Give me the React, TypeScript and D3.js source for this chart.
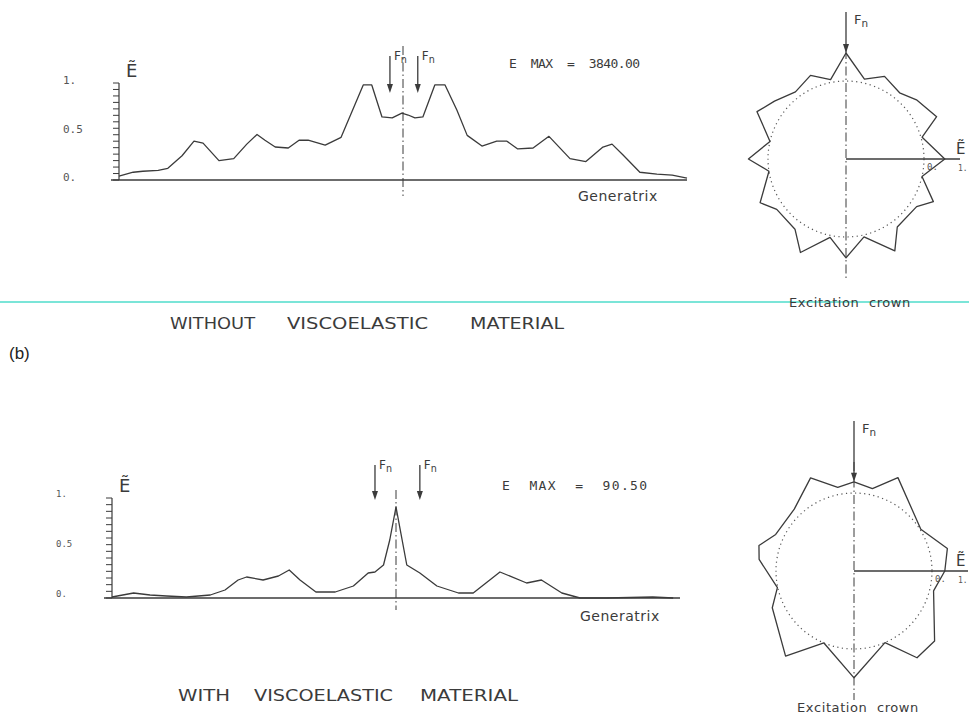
import { useEffect, useRef } from 'react'
import * as d3 from 'd3'

const W = 969
const H = 715
const INK = '#3b3b3b'
const SANS = '"DejaVu Sans", sans-serif'
const MONO = '"DejaVu Sans Mono", monospace'

// ── Generatrix distributions (position 0-100 along generatrix, centre = 50) ──
const topGenPos = [0, 2.5, 4.2, 6.9, 8.6, 11.1, 13.2, 14.8, 17.6, 20.2, 22.5, 24.3, 25.7, 27.5, 29.8, 31.7, 33.3, 36.3, 39.1, 43.0, 44.5, 46.3, 48.1, 49.8, 50.9, 52.1, 53.5, 55.6, 57.4, 59.5, 61.3, 63.9, 66.5, 68.3, 70.2, 72.9, 75.7, 79.4, 82.2, 85.2, 86.8, 88.7, 91.7, 94.7, 97.4, 100]
const topGenE = [0.04, 0.08, 0.09, 0.10, 0.12, 0.25, 0.40, 0.38, 0.20, 0.22, 0.37, 0.47, 0.41, 0.34, 0.33, 0.41, 0.41, 0.36, 0.44, 0.98, 0.98, 0.65, 0.64, 0.69, 0.67, 0.64, 0.65, 0.98, 0.98, 0.72, 0.46, 0.35, 0.40, 0.40, 0.32, 0.33, 0.45, 0.22, 0.19, 0.34, 0.37, 0.26, 0.08, 0.06, 0.05, 0.02]

const botGenPos = [0, 3.8, 6.7, 9.6, 13.1, 17.3, 19.9, 22.2, 23.7, 26.6, 29.3, 31.2, 33.1, 35.9, 39.3, 42.5, 45.1, 46.3, 47.8, 48.9, 50, 51.9, 54.2, 57.2, 61.0, 63.6, 68.3, 73.0, 75.6, 79.2, 82.4, 87.1, 95.2, 98.8]
const botGenE = [0.01, 0.05, 0.03, 0.02, 0.01, 0.03, 0.08, 0.18, 0.21, 0.18, 0.22, 0.28, 0.18, 0.06, 0.06, 0.12, 0.25, 0.26, 0.33, 0.58, 0.91, 0.33, 0.25, 0.12, 0.05, 0.05, 0.26, 0.15, 0.18, 0.05, 0.0, 0.0, 0.01, 0.0]

// force application points along the generatrix
const topFnPos = [47.7, 52.6]
const botFnPos = [46.3, 54.2]

// ── Excitation crown (angle clockwise from top, degrees) ──
const topCrownAngle = [0, 13, 25, 39, 50, 65, 74, 90, 103, 116, 124, 143, 152, 167, 180, 191.5, 206, 216, 234, 243, 261, 270, 283, 298, 309, 323, 337, 349]
const topCrownE = [0.70, 0.10, 0.33, 0.18, 0.35, 0.55, 0.03, 0.52, 0.0, 0.48, 0.18, 0.18, 0.65, 0.05, 0.52, 0.05, 0.65, 0.22, 0.19, 0.46, 0.0, 0.49, 0.0, 0.57, 0.35, 0.15, 0.32, 0.07]

const botCrownAngle = [0, 12.6, 25.2, 58, 76.5, 90, 104, 131, 144, 156.6, 180, 202.7, 218.8, 245.8, 257.7, 277, 285, 295, 316, 335, 349]
const botCrownE = [0.28, 0.16, 0.63, 0.02, 0.45, 0.32, 0.10, 0.72, 0.73, 0.0, 0.72, 0.0, 0.78, 0.29, 0.01, 0.44, 0.51, 0.21, 0.20, 0.62, 0.18]

const eTickValues = [0, 0.5, 1]
const eTickLabels = ['0.', '0.5', '1.']

const topCaption = ['WITHOUT', 'VISCOELASTIC', 'MATERIAL']
const botCaption = ['WITH', 'VISCOELASTIC', 'MATERIAL']

type Sel = d3.Selection<SVGSVGElement, unknown, null, undefined>

interface GenPanel {
  pos: number[]
  e: number[]
  fn: number[]
  x0: number
  x1: number
  base: number
  top: number
  emax: string
  emaxX: number
  emaxY: number
  emaxW: number
  genX: number
  genY: number
  tickFont: number
  tickDy: number
  arrowTop: number
  arrowTip: number
  dashTop: number
  dashBottom: number
}

function fnLabel(root: Sel, x: number, y: number, size: number) {
  const t = root
    .append('text')
    .attr('x', x)
    .attr('y', y)
    .attr('fill', INK)
    .attr('font-family', SANS)
    .attr('font-size', size)
  t.append('tspan').text('F')
  t.append('tspan').attr('font-size', size * 0.8).attr('dy', 3).text('n')
}

function arrow(root: Sel, x: number, yTop: number, yTip: number) {
  root
    .append('line')
    .attr('x1', x).attr('x2', x)
    .attr('y1', yTop).attr('y2', yTip - 6)
    .attr('stroke', INK)
    .attr('stroke-width', 1.3)
  root
    .append('path')
    .attr('d', `M${x - 3},${yTip - 9}L${x + 3},${yTip - 9}L${x},${yTip}Z`)
    .attr('fill', INK)
}

function drawGeneratrix(root: Sel, p: GenPanel) {
  const x = d3.scaleLinear().domain([0, 100]).range([p.x0, p.x1])
  const y = d3.scaleLinear().domain([0, 1]).range([p.base, p.top])

  // ── Axes ────────────────────────────────────────────────
  root
    .append('line')
    .attr('x1', x(0) - 8).attr('x2', x(100))
    .attr('y1', y(0)).attr('y2', y(0))
    .attr('stroke', INK)
    .attr('stroke-width', 1.5)

  root
    .append('line')
    .attr('x1', x(0)).attr('x2', x(0))
    .attr('y1', y(0)).attr('y2', y(1))
    .attr('stroke', INK)
    .attr('stroke-width', 1.2)

  root
    .append('g')
    .selectAll('line')
    .data(d3.range(0, 1.0001, 1 / 15))
    .join('line')
    .attr('x1', x(0) - 6)
    .attr('x2', x(0))
    .attr('y1', (d) => y(d))
    .attr('y2', (d) => y(d))
    .attr('stroke', INK)
    .attr('stroke-width', 1)

  root
    .append('g')
    .selectAll('text')
    .data(eTickValues)
    .join('text')
    .attr('x', x(0) - 56)
    .attr('y', (d) => y(d) + p.tickDy)
    .attr('fill', '#555')
    .attr('font-family', MONO)
    .attr('font-size', p.tickFont)
    .text((_, i) => eTickLabels[i])

  root
    .append('text')
    .attr('x', x(0) + 7)
    .attr('y', y(1) - 6)
    .attr('fill', INK)
    .attr('font-family', SANS)
    .attr('font-size', 18)
    .text('Ẽ')

  // ── Centre line and loads ───────────────────────────────
  root
    .append('line')
    .attr('x1', x(50)).attr('x2', x(50))
    .attr('y1', p.dashTop).attr('y2', p.dashBottom)
    .attr('stroke', INK)
    .attr('stroke-width', 1)
    .attr('stroke-dasharray', '9 3 1.5 3')

  p.fn.forEach((f) => {
    arrow(root, x(f), p.arrowTop, p.arrowTip)
    fnLabel(root, x(f) + 4, p.arrowTop + 4, 12)
  })

  // ── Curve ───────────────────────────────────────────────
  const line = d3
    .line<number>()
    .x((_, i) => x(p.pos[i]!))
    .y((d) => y(d))

  root
    .append('path')
    .attr('d', line(p.e))
    .attr('fill', 'none')
    .attr('stroke', INK)
    .attr('stroke-width', 1.3)
    .attr('stroke-linejoin', 'round')

  root
    .append('text')
    .attr('x', p.emaxX)
    .attr('y', p.emaxY)
    .attr('fill', INK)
    .attr('font-family', MONO)
    .attr('font-size', 13)
    .attr('textLength', p.emaxW)
    .attr('lengthAdjust', 'spacing')
    .style('white-space', 'pre')
    .text(p.emax)

  root
    .append('text')
    .attr('x', p.genX)
    .attr('y', p.genY)
    .attr('fill', INK)
    .attr('font-family', SANS)
    .attr('font-size', 14)
    .attr('letter-spacing', 0.5)
    .text('Generatrix')
}

interface CrownPanel {
  angle: number[]
  e: number[]
  cx: number
  cy: number
  lineTop: number
  lineBottom: number
  arrowTop: number
  labelY: number
}

function drawCrown(root: Sel, c: CrownPanel) {
  const r = d3.scaleLinear().domain([0, 1]).range([78, 118])
  const g = root.append('g').attr('transform', `translate(${c.cx},${c.cy})`)

  g.append('circle')
    .attr('r', r(0))
    .attr('fill', 'none')
    .attr('stroke', '#555')
    .attr('stroke-width', 1.2)
    .attr('stroke-dasharray', '1.2 3.4')

  g.append('line')
    .attr('x1', 0).attr('x2', 0)
    .attr('y1', c.lineTop - c.cy).attr('y2', c.lineBottom - c.cy)
    .attr('stroke', INK)
    .attr('stroke-width', 1)
    .attr('stroke-dasharray', '9 3 1.5 3')

  const axisEnd = Math.min(r(0.9), W - c.cx - 1)
  g.append('line')
    .attr('x1', 0).attr('x2', axisEnd)
    .attr('y1', 0).attr('y2', 0)
    .attr('stroke', INK)
    .attr('stroke-width', 1.4)

  const radial = d3
    .lineRadial<number>()
    .angle((_, i) => (c.angle[i]! * Math.PI) / 180)
    .radius((d) => r(d))
    .curve(d3.curveLinearClosed)

  g.append('path')
    .attr('d', radial(c.e))
    .attr('fill', 'none')
    .attr('stroke', INK)
    .attr('stroke-width', 1.3)
    .attr('stroke-linejoin', 'round')

  // labels on the E axis, kept inside the page
  const edge = W - c.cx
  g.append('text')
    .attr('x', r(0) + 3).attr('y', 11)
    .attr('fill', '#555')
    .attr('font-family', MONO)
    .attr('font-size', 9)
    .text('0.')
  g.append('text')
    .attr('x', edge - 11).attr('y', 12)
    .attr('fill', '#555')
    .attr('font-family', MONO)
    .attr('font-size', 8)
    .text('1.')
  g.append('text')
    .attr('x', edge - 13).attr('y', -5)
    .attr('fill', INK)
    .attr('font-family', SANS)
    .attr('font-size', 15)
    .text('Ẽ')

  const top = c.cy - r(c.e[0]!)
  arrow(root, c.cx, c.arrowTop, top)
  fnLabel(root, c.cx + 8, c.arrowTop + 12, 13)

  root
    .append('text')
    .attr('x', c.cx + 4)
    .attr('y', c.labelY)
    .attr('text-anchor', 'middle')
    .attr('fill', INK)
    .attr('font-family', SANS)
    .attr('font-size', 13)
    .attr('letter-spacing', 0.6)
    .style('white-space', 'pre')
    .text('Excitation  crown')
}

function caption(root: Sel, words: string[], xs: number[], widths: number[], y: number) {
  root
    .append('g')
    .selectAll('text')
    .data(words)
    .join('text')
    .attr('x', (_, i) => xs[i]!)
    .attr('y', y)
    .attr('fill', INK)
    .attr('font-family', SANS)
    .attr('font-size', 16)
    .attr('textLength', (_, i) => widths[i]!)
    .attr('lengthAdjust', 'spacingAndGlyphs')
    .text((d) => d)
}

export default function App() {
  const svgRef = useRef<SVGSVGElement>(null)

  useEffect(() => {
    if (!svgRef.current) return
    const root = d3.select(svgRef.current) as Sel
    root.selectAll('*').remove()

    // scan guide line across the page
    root
      .append('line')
      .attr('x1', 0).attr('x2', W)
      .attr('y1', 302).attr('y2', 302)
      .attr('stroke', '#4fdccb')
      .attr('stroke-width', 1.5)

    drawGeneratrix(root, {
      pos: topGenPos, e: topGenE, fn: topFnPos,
      x0: 119, x1: 687, base: 180, top: 83,
      emax: 'E  MAX  =  3840.00', emaxX: 509, emaxY: 68, emaxW: 131,
      genX: 578, genY: 201,
      tickFont: 11, tickDy: 1,
      arrowTop: 56, arrowTip: 93, dashTop: 46, dashBottom: 196,
    })

    drawGeneratrix(root, {
      pos: botGenPos, e: botGenE, fn: botFnPos,
      x0: 112, x1: 680, base: 598, top: 498,
      emax: 'E  MAX  =  90.50', emaxX: 502, emaxY: 490, emaxW: 145,
      genX: 580, genY: 621,
      tickFont: 9, tickDy: -1,
      arrowTop: 465, arrowTip: 500, dashTop: 490, dashBottom: 610,
    })

    drawCrown(root, {
      angle: topCrownAngle, e: topCrownE,
      cx: 846, cy: 159, lineTop: 50, lineBottom: 281,
      arrowTop: 12, labelY: 307,
    })

    drawCrown(root, {
      angle: botCrownAngle, e: botCrownE,
      cx: 854, cy: 571, lineTop: 462, lineBottom: 700,
      arrowTop: 421, labelY: 712,
    })

    // ── Captions ──────────────────────────────────────────
    caption(root, topCaption, [170, 287, 470], [85, 141, 94], 329)
    caption(root, botCaption, [178, 254, 420], [52, 139, 98], 701)

    root
      .append('text')
      .attr('x', 9).attr('y', 359)
      .attr('fill', '#222')
      .attr('font-family', '"Liberation Sans", Arial, sans-serif')
      .attr('font-size', 17)
      .text('(b)')
  }, [])

  return (
    <svg
      ref={svgRef}
      width={W}
      height={H}
      style={{ position: 'absolute', left: 0, top: 0, background: '#fff', display: 'block' }}
    />
  )
}
